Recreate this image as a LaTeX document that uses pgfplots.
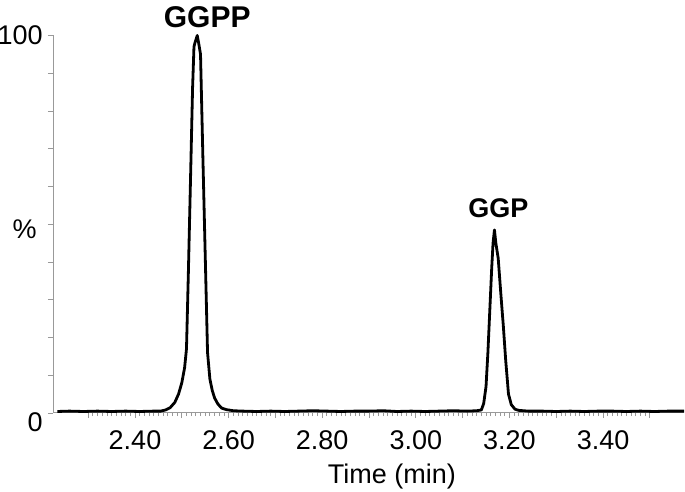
\documentclass[border=0pt]{standalone}
\usepackage{fontspec}
\setmainfont{Liberation Sans}
\usepackage{pgfplots}
\pgfplotsset{compat=1.18}
\begin{document}
\begin{tikzpicture}
\useasboundingbox (0,0) rectangle (342.5pt,246pt);
\begin{axis}[
  at={(26.5pt,39.5pt)}, anchor=south west,
  scale only axis, width=315.5pt, height=188.75pt,
  xmin=2.2248, xmax=3.573, ymin=0, ymax=100,
  axis x line=bottom, axis y line=left,
  axis line style={-, draw=gray!80, line width=0.5pt},
  tick style={draw=gray!80, line width=0.4pt},
  tick align=outside,
  major tick length=2.5pt, minor tick length=1.5pt,
  xtick={2.3,2.4,2.5,2.6,2.7,2.8,2.9,3.0,3.1,3.2,3.3,3.4,3.5},
  xticklabels={,2.40,,2.60,,2.80,,3.00,,3.20,,3.40,},
  minor x tick num=9,
  ytick={0,10,20,30,40,50,60,70,80,90,100},
  yticklabels={},
  /pgf/number format/assume math mode=true,
  xticklabel style={font=\fontsize{13.5}{15}\selectfont, anchor=base, yshift=-15.5pt},
  clip=false,
]
\addplot[black, line width=1.4pt, line join=round, no markers] coordinates {
(2.234,0.4) (2.26,0.5) (2.29,0.4) (2.32,0.5) (2.35,0.4) (2.38,0.5) (2.41,0.4) (2.44,0.5)
(2.455,0.5) (2.465,0.8) (2.475,1.4) (2.485,2.8) (2.493,5) (2.500,8) (2.506,12) (2.510,17)
(2.514,37) (2.519,64) (2.523,86) (2.526,97) (2.528,98) (2.533,100) (2.536,98) (2.540,95)
(2.545,68) (2.550,42) (2.555,16) (2.560,9) (2.565,6) (2.570,4) (2.577,2.4) (2.585,1.3)
(2.595,0.9) (2.61,0.6) (2.63,0.5) (2.66,0.4) (2.69,0.5) (2.72,0.4) (2.75,0.5) (2.78,0.6)
(2.81,0.5) (2.84,0.4) (2.87,0.5) (2.90,0.5) (2.93,0.6) (2.96,0.4) (2.99,0.5) (3.02,0.4)
(3.05,0.5) (3.08,0.6) (3.11,0.5) (3.13,0.6) (3.140,0.8) (3.145,2.5) (3.150,7) (3.154,16)
(3.158,27) (3.162,38) (3.165,45) (3.168,48.5) (3.171,45) (3.176,41) (3.182,31) (3.187,23)
(3.192,14) (3.198,5) (3.204,2.2) (3.212,1.0) (3.22,0.7) (3.24,0.5) (3.27,0.5) (3.30,0.4)
(3.33,0.5) (3.36,0.4) (3.39,0.5) (3.42,0.5) (3.45,0.4) (3.48,0.5) (3.51,0.4) (3.54,0.5) (3.573,0.5)
};
\node[anchor=base, font=\fontsize{15}{17}\selectfont\bfseries] at (axis cs:2.533,100) [yshift=4pt, xshift=5pt] {GGPP};
\node[anchor=base, font=\fontsize{13.5}{15}\selectfont\bfseries] at (axis cs:3.168,48.5) [yshift=6pt, xshift=2pt] {GGP};
\node[anchor=east, font=\fontsize{13.5}{15}\selectfont, inner sep=0pt] at (axis cs:2.2248,100) [xshift=-5pt] {100};
\node[anchor=east, font=\fontsize{13.5}{15}\selectfont, inner sep=0pt] at (axis cs:2.2248,50) [xshift=-8pt, yshift=-2.5pt] {\%};
\node[anchor=east, font=\fontsize{13.5}{15}\selectfont, inner sep=0pt] at (axis cs:2.2248,0) [xshift=-5pt, yshift=-4.5pt] {0};
\node[anchor=base, font=\fontsize{13.5}{15}\selectfont] at (rel axis cs:0.537,0) [yshift=-35pt] {Time (min)};
\end{axis}
\end{tikzpicture}
\end{document}
